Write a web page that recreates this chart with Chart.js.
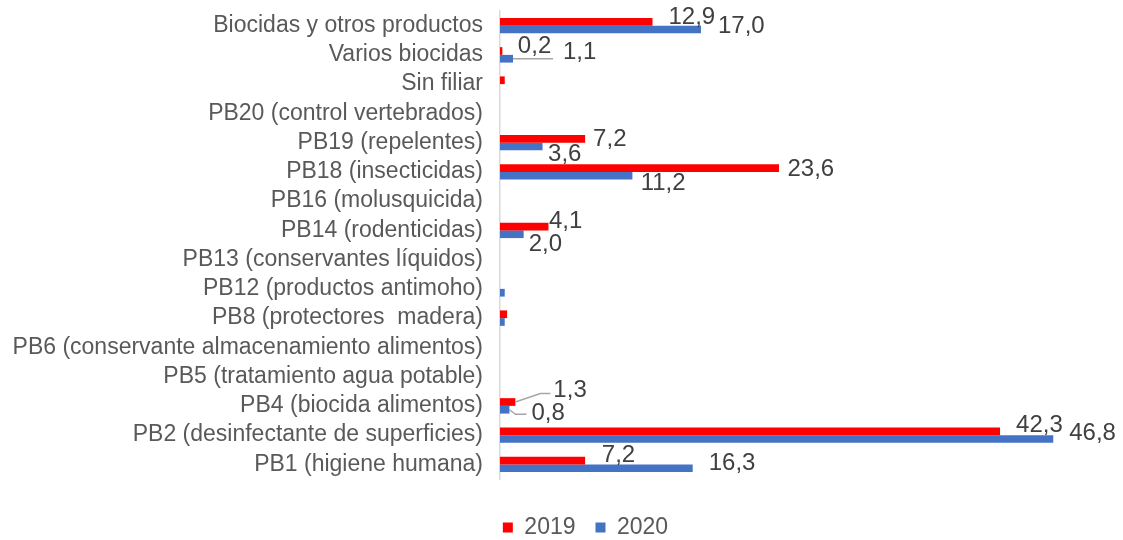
<!DOCTYPE html>
<html lang="es">
<head>
<meta charset="utf-8">
<title>Biocidas 2019 / 2020</title>
<script src="https://cdn.jsdelivr.net/npm/chart.js@4.4.1/dist/chart.umd.min.js"></script>
<style>
  html, body { margin: 0; padding: 0; background: #fff; overflow: hidden; }
  #wrap { width: 1123px; height: 540px; }
</style>
</head>
<body>
<div id="wrap"><canvas id="chart" width="1123" height="540"></canvas></div>
<script>
// Categories, top to bottom as they appear on the axis
const categories = [
  'Biocidas y otros productos',
  'Varios biocidas',
  'Sin filiar',
  'PB20 (control vertebrados)',
  'PB19 (repelentes)',
  'PB18 (insecticidas)',
  'PB16 (molusquicida)',
  'PB14 (rodenticidas)',
  'PB13 (conservantes líquidos)',
  'PB12 (productos antimoho)',
  'PB8 (protectores  madera)',
  'PB6 (conservante almacenamiento alimentos)',
  'PB5 (tratamiento agua potable)',
  'PB4 (biocida alimentos)',
  'PB2 (desinfectante de superficies)',
  'PB1 (higiene humana)',
];
const seriesNames = ['2019', '2020'];
const values2019 = [12.9, 0.2, 0.4, null, 7.2, 23.6, null, 4.1, null, null, 0.6, null, null, 1.3, 42.3, 7.2];
const values2020 = [17.0, 1.1, null, null, 3.6, 11.2, null, 2.0, null, 0.4, 0.4, null, null, 0.8, 46.8, 16.3];

// Label placement (px offset from the bar end / bar centre), only for labelled bars.
// Optional third entry = leader line points relative to the bar end.
const labelPlacement = [
  {
    0: [16, -4], 1: [15.5, -5], 4: [8, 1], 5: [8.5, 1], 7: [0.5, -5.5],
    13: [38, -12, [[0, 0], [25, -8.5], [35, -8.5]]],
    14: [16, -6], 15: [16.7, -5.5],
  },
  {
    0: [17, -3], 1: [50, -6, [[0, 0], [40, 0]]], 4: [5.5, 8], 5: [8.3, 7.5], 7: [5, 10],
    13: [22, 3.5, [[0, 0], [6, 4.5], [17, 4.5]]],
    14: [16, -6], 15: [16, -5],
  },
];

const FONT = "'Liberation Sans', Arial, sans-serif";
const fmt = v => v.toFixed(1).replace('.', ',');

const barLabels = {
  id: 'barLabels',
  afterDatasetsDraw(chart) {
    const ctx = chart.ctx;
    ctx.save();
    ctx.font = '24px ' + FONT;
    ctx.textAlign = 'left';
    ctx.textBaseline = 'middle';
    chart.data.datasets.forEach((ds, di) => {
      const meta = chart.getDatasetMeta(di);
      const place = labelPlacement[di];
      meta.data.forEach((bar, i) => {
        const v = ds.data[i];
        if (v == null || !place[i]) return;
        const [dx, dy, leader] = place[i];
        if (leader) {
          ctx.strokeStyle = '#a6a6a6';
          ctx.lineWidth = 1.5;
          ctx.beginPath();
          leader.forEach(([lx, ly], k) => {
            if (k === 0) ctx.moveTo(bar.x + lx, bar.y + ly);
            else ctx.lineTo(bar.x + lx, bar.y + ly);
          });
          ctx.stroke();
        }
        ctx.fillStyle = '#404040';
        ctx.fillText(fmt(v), bar.x + dx, bar.y + dy);
      });
    });
    ctx.restore();
  },
};

Chart.defaults.font.family = FONT;
Chart.defaults.color = '#595959';

new Chart(document.getElementById('chart').getContext('2d'), {
  type: 'bar',
  data: {
    labels: categories,
    datasets: [
      { label: seriesNames[0], data: values2019, backgroundColor: '#ff0000' },
      { label: seriesNames[1], data: values2020, backgroundColor: '#4472c4' },
    ],
  },
  options: {
    indexAxis: 'y',
    responsive: false,
    animation: false,
    datasets: { bar: { categoryPercentage: 0.527, barPercentage: 1, borderWidth: 0 } },
    // right padding is negative so the bottom legend centres where the original had it
    layout: { padding: { top: 11, left: 0, right: -48, bottom: -9 } },
    scales: {
      x: {
        min: 0,
        max: 52.7,
        grid: { display: false, drawTicks: false },
        border: { display: false },
        ticks: { display: false },
        afterFit(scale) { scale.height = 17; },
      },
      y: {
        grid: { display: false, drawTicks: true, tickLength: 20 },
        border: { display: true, color: '#d9d9d9', width: 1.5 },
        ticks: { padding: -3, color: '#595959', font: { size: 23 }, autoSkip: false },
        afterFit(scale) { scale.width = 500; },
      },
    },
    plugins: {
      legend: {
        position: 'bottom',
        labels: { boxWidth: 10, boxHeight: 10, padding: 20, color: '#595959', font: { size: 23 } },
      },
      tooltip: { enabled: false },
    },
  },
  plugins: [barLabels],
});
</script>
</body>
</html>
